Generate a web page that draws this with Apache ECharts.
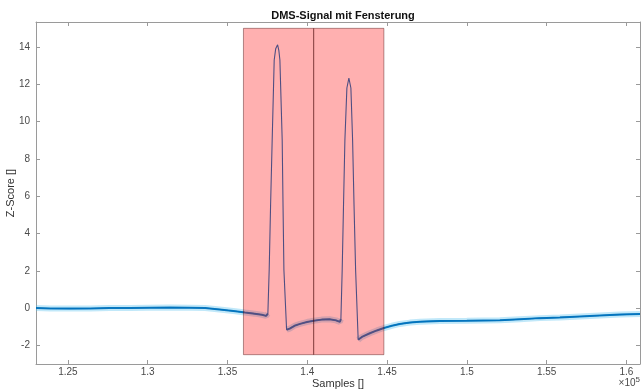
<!DOCTYPE html>
<html>
<head>
<meta charset="utf-8">
<script src="https://cdn.jsdelivr.net/npm/echarts@6/dist/echarts.min.js"></script>
<style>
html,body{margin:0;padding:0;background:#fff;}
#chart{width:641px;height:390px;}
</style>
</head>
<body>
<div id="chart"></div>
<script>
// ---- data ----
const sampleX = [123000,123900,125100,126400,127600,128900,130100,131400,132600,133600,134200,134800,135500,136100,136700,137150,137420,137530,137613,137700,137800,137927,138020,138140,138220,138284,138428,138480,138535,138704,138900,139200,139540,139980,140400,140900,141400,141800,142040,142106,142188,142270,142357,142482,142607,142733,142840,142930,143028,143190,143420,143920,144360,144800,145300,145800,146430,147060,148310,150000,152070,153320,154580,155830,157080,158340,159590,160850];
const zScore  = [0.0,-0.02,-0.03,-0.02,0.0,0.0,0.02,0.03,0.02,0.0,-0.05,-0.1,-0.17,-0.24,-0.3,-0.36,-0.42,-0.3,2.05,5.5,9.0,13.3,13.9,14.12,13.8,13.3,9.0,5.5,2.05,-1.16,-1.1,-0.95,-0.85,-0.75,-0.68,-0.62,-0.6,-0.66,-0.74,-0.6,2.05,5.5,9.0,11.8,12.33,11.8,9.0,5.5,2.05,-1.7,-1.55,-1.35,-1.2,-1.07,-0.95,-0.85,-0.78,-0.73,-0.69,-0.68,-0.66,-0.6,-0.54,-0.5,-0.45,-0.4,-0.35,-0.32];
const windowStart = [136000, 140400];
const windowEnd   = [140400, 144800];
const windowLow   = [-2.5, -2.5];
const windowHigh  = [15, 15];
const xTickValues = [125000,130000,135000,140000,145000,150000,155000,160000];
const xTickLabels = ['1.25','1.3','1.35','1.4','1.45','1.5','1.55','1.6'];
const yTickValues = [-2,0,2,4,6,8,10,12,14];
const yTickLabels = ['-2','0','2','4','6','8','10','12','14'];
const titleText = 'DMS-Signal mit Fensterung';
const xName = 'Samples []';
const yName = 'Z-Score []';

// ---- build chart ----
const signal = sampleX.map((x, i) => [x, zScore[i]]);
const baseline = sampleX.map((x, i) => [x, zScore[i] < 1.5 ? zScore[i] : null]);
const windows = windowStart.map((s, i) => [s, windowEnd[i], windowLow[i], windowHigh[i]]);

const FONT = 'Liberation Sans, Arial, sans-serif';
const AX = '#9a9a9a';
const LBL = '#4a4a4a';

const chart = echarts.init(document.getElementById('chart'), null, {renderer: 'canvas'});
const xLabelMap = {}; xTickValues.forEach((v, i) => xLabelMap[v] = xTickLabels[i]);
const yLabelMap = {}; yTickValues.forEach((v, i) => yLabelMap[v] = yTickLabels[i]);

const baseX = {
  type: 'value', min: 123000, max: 160850,
  axisLine: {show: true, onZero: false, lineStyle: {color: AX, width: 1}},
  axisTick: {show: true, inside: true, length: 4, customValues: xTickValues, lineStyle: {color: AX}},
  splitLine: {show: false}
};
const baseY = {
  type: 'value', min: -3, max: 15.34,
  axisLine: {show: true, onZero: false, lineStyle: {color: AX, width: 1}},
  axisTick: {show: true, inside: true, length: 4, customValues: yTickValues, lineStyle: {color: AX}},
  splitLine: {show: false}
};

chart.setOption({
  animation: false,
  backgroundColor: '#fff',
  title: {
    text: titleText, left: 338, top: 5, textAlign: 'center',
    textStyle: {fontFamily: FONT, fontSize: 11, fontWeight: 'bold', color: '#111'}
  },
  grid: {left: 36, top: 22, width: 604, height: 342, containLabel: false, outerBoundsMode: 'none'},
  xAxis: [
    Object.assign({}, baseX, {
      position: 'bottom',
      name: xName, nameLocation: 'middle', nameGap: 14, nameMoveOverlap: false,
      nameTextStyle: {fontFamily: FONT, fontSize: 11, color: '#333'},
      axisLabel: {show: true, customValues: xTickValues, margin: 3,
        formatter: v => xLabelMap[v] !== undefined ? xLabelMap[v] : '',
        fontFamily: FONT, fontSize: 10, color: LBL}
    }),
    Object.assign({}, baseX, {position: 'top', axisLabel: {show: false}})
  ],
  yAxis: [
    Object.assign({}, baseY, {
      position: 'left',
      name: yName, nameLocation: 'middle', nameGap: 20, nameRotate: 90, nameMoveOverlap: false,
      nameTextStyle: {fontFamily: FONT, fontSize: 11, color: '#333'},
      axisLabel: {show: true, customValues: yTickValues, margin: 6,
        formatter: v => yLabelMap[v] !== undefined ? yLabelMap[v] : '',
        fontFamily: FONT, fontSize: 10, color: LBL}
    }),
    Object.assign({}, baseY, {position: 'right', axisLabel: {show: false}})
  ],
  graphic: [{
    type: 'text', right: 1, top: 376,
    style: {
      text: '×10{s|5}',
      rich: {s: {fontSize: 8, verticalAlign: 'top', padding: [0,0,6,0], fontFamily: FONT, fill: LBL}},
      font: '10px Liberation Sans, Arial, sans-serif', fill: LBL
    }
  }],
  series: [
    {
      type: 'line', data: baseline, xAxisIndex: 0, yAxisIndex: 0, z: 1,
      showSymbol: false, connectNulls: false, silent: true,
      lineStyle: {color: '#4DBEEE', width: 6, opacity: 0.35}
    },
    {
      type: 'line', data: baseline, xAxisIndex: 0, yAxisIndex: 0, z: 2,
      showSymbol: false, connectNulls: false, silent: true,
      lineStyle: {color: '#0072BD', width: 2, opacity: 0.9}
    },
    {
      type: 'line', data: signal, xAxisIndex: 0, yAxisIndex: 0, z: 3,
      showSymbol: false, silent: true,
      lineStyle: {color: '#0072BD', width: 1.1}
    },
    {
      type: 'custom', data: windows, xAxisIndex: 0, yAxisIndex: 0, z: 10, silent: true,
      renderItem: function (params, api) {
        const p0 = api.coord([api.value(0), api.value(3)]);
        const p1 = api.coord([api.value(1), api.value(2)]);
        return {
          type: 'rect',
          shape: {x: p0[0], y: p0[1], width: p1[0] - p0[0], height: p1[1] - p0[1]},
          style: {fill: 'rgba(255,0,0,0.31)', stroke: 'rgba(60,0,0,0.4)', lineWidth: 1}
        };
      }
    }
  ]
});
</script>
</body>
</html>
